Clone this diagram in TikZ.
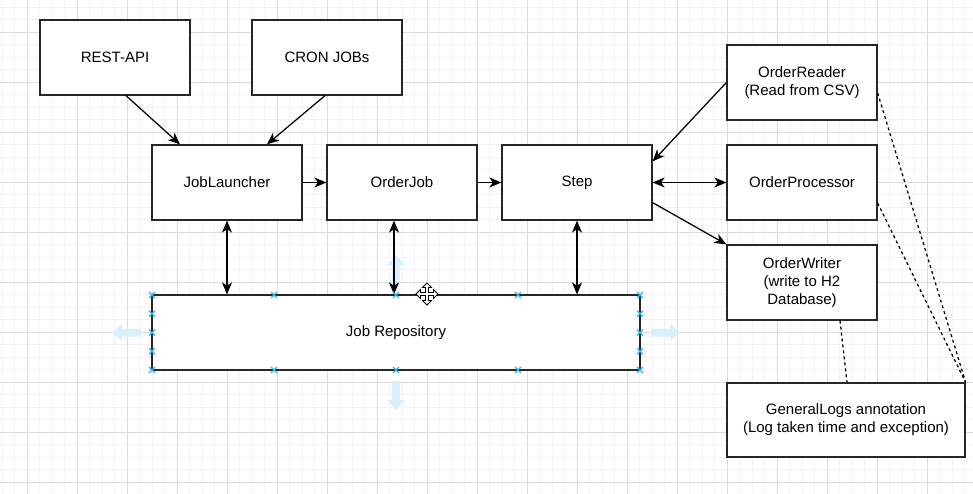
\documentclass[tikz,border=0pt]{standalone}
\usepackage{fontspec}
\setmainfont{Liberation Sans}
\usetikzlibrary{arrows.meta}
\definecolor{gridminor}{RGB}{242,242,242}
\definecolor{gridmajor}{RGB}{219,219,219}
\definecolor{handle}{RGB}{41,182,242}
\definecolor{hint}{RGB}{216,240,252}
\begin{document}
\begin{tikzpicture}
        [
        x=1pt, y=-1pt,
        Box/.style={rectangle,draw=black!85,fill=white,line width=1.25pt, minimum width=150pt, minimum height=75pt, inner sep=0pt, align=center, font=\fontsize{15}{18}\selectfont},
        Link/.style={-{Stealth[length=12pt,width=10pt,inset=3.5pt]},line width=1.25pt},
        BiLink/.style={{Stealth[length=12pt,width=10pt,inset=3.5pt]}-{Stealth[length=12pt,width=10pt,inset=3.5pt]},line width=1.25pt},
        Note/.style={line width=1.25pt, dash pattern=on 3pt off 3pt},
        ]

        \useasboundingbox (0,0) rectangle (973,494);
        \fill[white] (0,0) rectangle (973,494);
        % grid
        \foreach \i in {0,...,77} \draw[gridminor, line width=0.8pt] (2.3+12.5*\i,0) -- (2.3+12.5*\i,494);
        \foreach \i in {0,...,38} \draw[gridminor, line width=0.8pt] (0,7.3+12.5*\i) -- (973,7.3+12.5*\i);
        \foreach \i in {0,...,18} \draw[gridmajor, line width=0.8pt] (27.3+50*\i,0) -- (27.3+50*\i,494);
        \foreach \i in {0,...,9} \draw[gridmajor, line width=0.8pt] (0,32.3+50*\i) -- (973,32.3+50*\i);

        \node[Box] (rest) at (115, 57.5){REST-API};
        \node[Box] (cron) at (327, 57.5){CRON JOBs};
        \node[Box] (launcher) at (227, 182.5){JobLauncher};
        \node[Box] (orderjob) at (402, 182.5){OrderJob};
        \node[Box] (step) at (577, 182.5){Step};
        \node[Box] (reader) at (802, 82.5){OrderReader\\(Read from CSV)};
        \node[Box] (processor) at (802, 182.5){OrderProcessor};
        \node[Box] (writer) at (802, 282.5){OrderWriter\\(write to H2\\Database)};
        \node[Box, minimum width=488pt] (repo) at (396, 332.5){Job Repository};
        \node[Box, minimum width=238pt, minimum height=74pt] (logs) at (846, 420){GeneralLogs annotation\\(Log taken time and exception)};

        % selection hints
        \fill[hint] (392,284) -- (392,265) -- (387,265) -- (396,255) -- (405,265) -- (400,265) -- (400,284) -- cycle;
        \fill[hint] (392,381) -- (392,400) -- (387,400) -- (396,410) -- (405,400) -- (400,400) -- (400,381) -- cycle;
        \fill[hint] (141,328.5) -- (122,328.5) -- (122,324) -- (112,332.5) -- (122,341) -- (122,336.5) -- (141,336.5) -- cycle;
        \fill[hint] (651,328.5) -- (670,328.5) -- (670,324) -- (680,332.5) -- (670,341) -- (670,336.5) -- (651,336.5) -- cycle;

\draw [Link] ([xshift=11pt]rest.south) to ([xshift=-47pt]launcher.north);
\draw [Link] ([xshift=-2pt]cron.south) to ([xshift=40pt]launcher.north);
\draw [Link] (launcher) to (orderjob);
\draw [Link] (orderjob) to (step);
\draw [BiLink] (step) to (processor);
\draw [Link] (reader.west) to ([yshift=-17pt]step.north east);
\draw [Link] ([yshift=18pt]step.south east) to (writer.north west);

\draw [BiLink] (launcher.south) to (launcher.south |- repo.north);
\draw [BiLink] ([xshift=-8pt]orderjob.south) to ([xshift=-8pt]orderjob.south |- repo.north);
\draw [BiLink] (step.south) to (step.south |- repo.north);

\draw [Note] ([yshift=-10.5pt]reader.east) to (logs.north east);
\draw [Note] ([yshift=-20.5pt]processor.east) to (logs.north east);
\draw [Note] ([xshift=38pt]writer.south) to ([xshift=1pt]logs.north);

        % handles
        \foreach \hx in {152, 274, 396, 518, 640} {
            \draw[handle, line width=1.1pt] (\hx-3,292) -- (\hx+3,298) (\hx-3,298) -- (\hx+3,292);
            \draw[handle, line width=1.1pt] (\hx-3,367) -- (\hx+3,373) (\hx-3,373) -- (\hx+3,367);
        }
        \foreach \hy in {313.75, 332.5, 351.25} {
            \draw[handle, line width=1.1pt] (149,\hy-3) -- (155,\hy+3) (149,\hy+3) -- (155,\hy-3);
            \draw[handle, line width=1.1pt] (637,\hy-3) -- (643,\hy+3) (637,\hy+3) -- (643,\hy-3);
        }

        % move cursor
        \draw[fill=white, line width=0.8pt, shift={(427,294)}]
            (-1.5,-6.5) -- (-4.5,-6.5) -- (0,-11) -- (4.5,-6.5) -- (1.5,-6.5) -- (1.5,-1.5)
            -- (6.5,-1.5) -- (6.5,-4.5) -- (11,0) -- (6.5,4.5) -- (6.5,1.5) -- (1.5,1.5)
            -- (1.5,6.5) -- (4.5,6.5) -- (0,11) -- (-4.5,6.5) -- (-1.5,6.5) -- (-1.5,1.5)
            -- (-6.5,1.5) -- (-6.5,4.5) -- (-11,0) -- (-6.5,-4.5) -- (-6.5,-1.5) -- (-1.5,-1.5) -- cycle;

    \end{tikzpicture}
\end{document}
